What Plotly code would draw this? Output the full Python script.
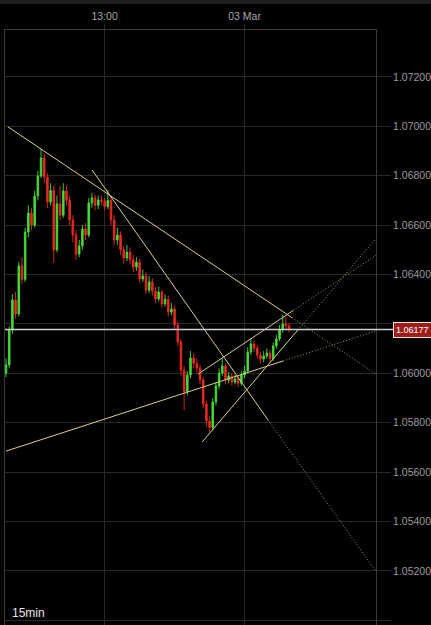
import pandas as pd
import plotly.graph_objects as go

# ---------------- data ----------------
start_time = "2023-03-02 05:15"
n_candles = 90
first_open = 1.06000

closes = [
    1.06034, 1.06175, 1.06297, 1.06240, 1.06435, 1.06380, 1.06572, 1.06649, 1.06600, 1.06718,
    1.06799, 1.06872, 1.06795, 1.06694, 1.06740, 1.06500, 1.06686, 1.06640, 1.06738, 1.06700,
    1.06621, 1.06560, 1.06483, 1.06516, 1.06584, 1.06560, 1.06690, 1.06710, 1.06680, 1.06702,
    1.06698, 1.06675, 1.06700, 1.06621, 1.06540, 1.06560, 1.06500, 1.06467, 1.06490, 1.06460,
    1.06430, 1.06450, 1.06382, 1.06394, 1.06337, 1.06370, 1.06333, 1.06301, 1.06329, 1.06281,
    1.06300, 1.06248, 1.06260, 1.06196, 1.06127, 1.06013, 1.05924, 1.05993, 1.06062, 1.06040,
    1.06021, 1.05973, 1.05876, 1.05807, 1.05780, 1.05884, 1.05949, 1.06001, 1.06030, 1.05973,
    1.05989, 1.05965, 1.05977, 1.05960, 1.05993, 1.06009, 1.06086, 1.06119, 1.06102, 1.06074,
    1.06058, 1.06070, 1.06082, 1.06060, 1.06111, 1.06139, 1.06175, 1.06200, 1.06192, 1.06177,
]
highs = [
    1.06060, 1.06190, 1.06320, 1.06330, 1.06450, 1.06470, 1.06590, 1.06680, 1.06670, 1.06740,
    1.06820, 1.06910, 1.06890, 1.06810, 1.06770, 1.06760, 1.06720, 1.06760, 1.06770, 1.06760,
    1.06720, 1.06640, 1.06580, 1.06540, 1.06600, 1.06610, 1.06710, 1.06730, 1.06725, 1.06720,
    1.06720, 1.06710, 1.06742, 1.06715, 1.06640, 1.06590, 1.06575, 1.06515, 1.06520, 1.06510,
    1.06480, 1.06470, 1.06465, 1.06420, 1.06410, 1.06395, 1.06385, 1.06350, 1.06350, 1.06340,
    1.06320, 1.06315, 1.06285, 1.06275, 1.06210, 1.06140, 1.06030, 1.06010, 1.06090, 1.06080,
    1.06060, 1.06035, 1.05985, 1.05890, 1.05825, 1.05900, 1.05965, 1.06020, 1.06060, 1.06040,
    1.06005, 1.06000, 1.05995, 1.05990, 1.06010, 1.06030, 1.06105, 1.06140, 1.06135, 1.06115,
    1.06085, 1.06090, 1.06100, 1.06095, 1.06125, 1.06155, 1.06195, 1.06236, 1.06230, 1.06205,
]
lows = [
    1.05985, 1.06020, 1.06160, 1.06220, 1.06230, 1.06360, 1.06370, 1.06550, 1.06580, 1.06590,
    1.06700, 1.06790, 1.06770, 1.06670, 1.06680, 1.06447, 1.06490, 1.06620, 1.06630, 1.06680,
    1.06600, 1.06530, 1.06460, 1.06470, 1.06500, 1.06540, 1.06550, 1.06670, 1.06660, 1.06665,
    1.06680, 1.06660, 1.06665, 1.06600, 1.06520, 1.06520, 1.06480, 1.06445, 1.06455, 1.06440,
    1.06410, 1.06415, 1.06365, 1.06370, 1.06320, 1.06325, 1.06315, 1.06285, 1.06290, 1.06265,
    1.06270, 1.06230, 1.06235, 1.06180, 1.06110, 1.05990, 1.05851, 1.05910, 1.05980, 1.06020,
    1.06000, 1.05955, 1.05860, 1.05785, 1.05762, 1.05770, 1.05870, 1.05935, 1.05990, 1.05955,
    1.05960, 1.05950, 1.05955, 1.05945, 1.05950, 1.05980, 1.06000, 1.06075, 1.06085, 1.06060,
    1.06040, 1.06045, 1.06060, 1.06045, 1.06050, 1.06100, 1.06130, 1.06165, 1.06175, 1.06165,
]
opens = [first_open] + closes[:-1]
times = pd.date_range(start_time, periods=n_candles, freq="15min")

last_price = 1.06177
price_ticks = [1.050, 1.052, 1.054, 1.056, 1.058, 1.060, 1.062, 1.064, 1.066, 1.068, 1.070, 1.072]
price_tick_text = ["1.05000", "1.05200", "1.05400", "1.05600", "1.05800", "1.06000", "",
                   "1.06400", "1.06600", "1.06800", "1.07000", "1.07200"]
time_ticks = ["2023-03-02 13:00", "2023-03-03 00:00"]
time_tick_text = ["13:00", "03 Mar"]
x_range = ["2023-03-02 05:10", "2023-03-03 10:20"]
y_range = [1.04981, 1.07390]

# trend lines: (solid points, dotted extension points)
trend_lines = [
    (["2023-03-02 05:24", "2023-03-03 03:44"], [1.06998, 1.06225],
     ["2023-03-03 03:44", "2023-03-03 10:20"], [1.06225, 1.05997]),
    (["2023-03-02 12:01", "2023-03-03 01:51"], [1.06823, 1.05811],
     ["2023-03-03 01:51", "2023-03-03 10:16"], [1.05811, 1.05203]),
    (["2023-03-02 05:15", "2023-03-03 03:02"], [1.05685, 1.06050],
     ["2023-03-03 03:02", "2023-03-03 10:20"], [1.06050, 1.06172]),
    (["2023-03-02 20:21", "2023-03-03 03:49"], [1.05997, 1.06254],
     ["2023-03-03 03:49", "2023-03-03 10:20"], [1.06254, 1.06478]),
    (["2023-03-02 20:40", "2023-03-03 04:12"], [1.05722, 1.06176],
     ["2023-03-03 04:12", "2023-03-03 10:20"], [1.06176, 1.06546]),
]

# ---------------- figure ----------------
LINE_COL = "#d8cf8e"
DOT_COL = "rgba(216,207,142,0.75)"
GRID = "#282828"
BORDER = "#3a3a3a"
TXT = "#9c9c9c"
FONT = "Liberation Sans"

fig = go.Figure()

for sx, sy, dx, dy in trend_lines:
    fig.add_trace(go.Scatter(x=sx, y=sy, mode="lines",
                             line=dict(color=LINE_COL, width=1), hoverinfo="skip",
                             showlegend=False))
    fig.add_trace(go.Scatter(x=dx, y=dy, mode="lines",
                             line=dict(color=DOT_COL, width=1, dash="1px,2px"), hoverinfo="skip",
                             showlegend=False))

fig.add_trace(go.Candlestick(
    x=times, open=opens, high=highs, low=lows, close=closes,
    increasing=dict(line=dict(color="#45dc38", width=0.9), fillcolor="#45dc38"),
    decreasing=dict(line=dict(color="#ea2a1f", width=0.9), fillcolor="#ea2a1f"),
    whiskerwidth=0, showlegend=False,
))

fig.update_layout(
    width=431, height=625,
    margin=dict(l=5, r=55, t=30, b=0, autoexpand=False),
    paper_bgcolor="#000000", plot_bgcolor="#000000",
    font=dict(family=FONT, color=TXT, size=10.5),
    showlegend=False,
    xaxis=dict(
        type="date", range=x_range, side="top",
        tickvals=time_ticks, ticktext=time_tick_text,
        showgrid=True, gridcolor=GRID, gridwidth=1,
        ticks="outside", ticklen=5, tickcolor=GRID,
        showline=True, linecolor=BORDER, mirror=True,
        rangeslider=dict(visible=False), zeroline=False,
        tickfont=dict(family=FONT, color="#a8a8a8", size=10.5),
    ),
    yaxis=dict(
        range=y_range, side="right",
        tickvals=price_ticks, ticktext=price_tick_text,
        showgrid=True, gridcolor=GRID, gridwidth=1,
        ticks="outside", ticklen=14, tickcolor=GRID,
        showline=True, linecolor=BORDER, mirror=True, zeroline=False,
        tickfont=dict(family=FONT, color=TXT, size=10.5),
    ),
    shapes=[
        dict(type="rect", xref="paper", yref="paper", x0=-0.05, x1=1.2,
             y0=1 + 26 / 595, y1=1 + 31 / 595, fillcolor="#1f1f1f", line=dict(width=0),
             layer="above"),
        dict(type="line", xref="paper", yref="y", x0=0, x1=1.0458,
             y0=last_price, y1=last_price, line=dict(color="#cfcfcf", width=1.5),
             layer="above"),
    ],
    annotations=[
        dict(xref="paper", yref="y", x=1.0458, y=last_price, xanchor="left",
             yanchor="middle", text="1.06177", showarrow=False,
             font=dict(family=FONT, color="#ffffff", size=9),
             bgcolor="#9e1d1b", bordercolor="#e8e8e8", borderwidth=1, borderpad=2),
        dict(xref="paper", yref="paper", x=0.0135, y=12 / 595, xanchor="left",
             yanchor="middle", text="15min", showarrow=False,
             font=dict(family=FONT, color="#e6e6e6", size=12)),
    ],
)

fig.write_html("out.html")
